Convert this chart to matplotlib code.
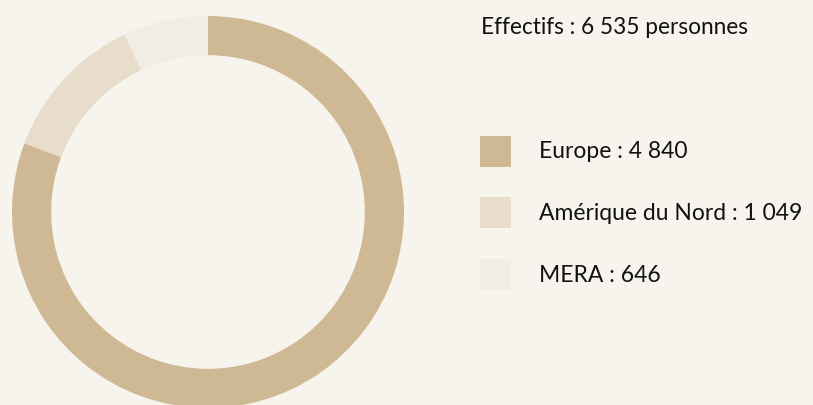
"""
Effectifs par zone : anneau + légende
"""

import matplotlib.pyplot as plt

# données
regions = ['Europe', 'Amérique du Nord', 'MERA']
effectifs = ['4 840', '1 049', '646']
total_label = 'Effectifs : 6 535 personnes'
# parts de l'anneau (%)
parts_anneau = [80.7, 12.3, 7.0]
couleurs = ['#cfb994', '#e8ddcb', '#f1ede3']

FOND = '#f7f4ee'
W, H = 813, 405

plt.rcParams['font.family'] = ['Lato', 'DejaVu Sans']

fig = plt.figure(figsize=(W / 100, H / 100), dpi=100)
fig.patch.set_facecolor(FOND)

# anneau : centre (208, 212) px depuis le haut, rayon 196 px
cx, cy, R = 208, 212, 196
ax = fig.add_axes([(cx - R) / W, (H - cy - R) / H, 2 * R / W, 2 * R / H])
ax.set_facecolor(FOND)
ax.pie(parts_anneau, colors=couleurs, startangle=90, counterclock=False,
       radius=1, wedgeprops=dict(width=0.2, linewidth=0))
ax.set_xlim(-1, 1)
ax.set_ylim(-1, 1)
ax.set_aspect('equal')
ax.axis('off')

# titre à droite
fig.text(481 / W, 1 - 28 / H, total_label, fontsize=16.3, color='#111111',
         ha='left', va='center')

# légende
for i, (nom, val, c) in enumerate(zip(regions, effectifs, couleurs)):
    y = 151 + i * 61.5
    fig.patches.append(plt.Rectangle((480 / W, 1 - (y + 15.5) / H), 31 / W, 31 / H,
                                     transform=fig.transFigure, facecolor=c,
                                     edgecolor='none'))
    fig.text(539 / W, 1 - (y + 1) / H, f'{nom} : {val}', fontsize=16.5,
             color='#111111', ha='left', va='center')

fig.savefig('out.png', dpi=100, facecolor=FOND)
